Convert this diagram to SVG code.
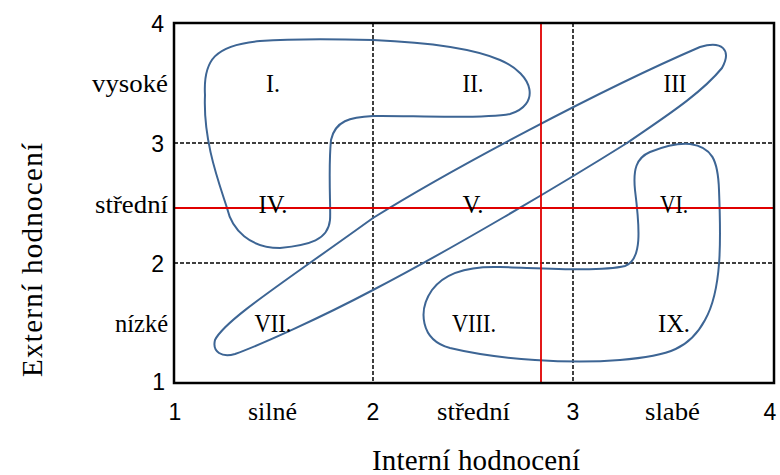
<svg xmlns="http://www.w3.org/2000/svg" width="780" height="475" viewBox="0 0 780 475">
<style>
.num{font-family:"Liberation Sans",Arial,sans-serif;font-size:23px;fill:#000}
.lbl{font-family:"Liberation Serif","Times New Roman",serif;font-size:26px;fill:#000}
.rom{font-family:"Liberation Serif","Times New Roman",serif;font-size:25px;fill:#000;text-anchor:middle}
.ttl{font-family:"Liberation Serif","Times New Roman",serif;font-size:29px;fill:#000;text-anchor:middle}
.dash{stroke:#000;stroke-width:1.5;stroke-dasharray:4 2;fill:none}
.red{stroke:#e00000;stroke-width:1.8;fill:none}
.reg{stroke:#3d6594;stroke-width:2;fill:none}
</style>
<rect x="0" y="0" width="780" height="475" fill="#fff"/>
<g id="grid">
<line class="dash" x1="373" y1="23" x2="373" y2="383"/>
<line class="dash" x1="573" y1="23" x2="573" y2="383"/>
<line class="dash" x1="174" y1="143" x2="774" y2="143"/>
<line class="dash" x1="174" y1="263" x2="774" y2="263"/>
</g>
<g id="regions">
<path id="region-I-II-IV" class="reg" d="M205,95 C203,60 215,45 260,41 C300,38 340,39 373,40 C420,42 470,47 500,60 C535,75 540,105 510,114 C480,120 400,115 373,116 C350,117 335,121 331,140 C328,170 331,210 330,220 C328,240 310,245 280,248 C250,248 232,230 227,208 C218,180 203,140 205,95 Z"/>
<path id="region-III-V-VII" class="reg" d="M215,340 C225,320 280,285 373,218 C450,170 600,90 700,47 C722,40 732,50 722,68 C700,95 660,120 627,143 C560,185 450,250 373,290 C320,318 260,345 235,354 C222,358 212,352 215,340 Z"/>
<path id="region-VI-VIII-IX" class="reg" d="M635,190 C633,170 636,158 650,152 C665,146 680,143 690,144 C712,147 718,160 719,190 C721,240 722,290 705,320 C690,348 670,356 620,360 C570,364 500,360 450,348 C420,340 418,310 432,290 C445,272 470,266 500,267 C540,268 600,272 625,266 C642,260 640,230 635,190 Z"/>
</g>
<g id="red-lines">
<line class="red" x1="541" y1="23" x2="541" y2="383"/>
<line class="red" x1="174" y1="208" x2="774" y2="208"/>
</g>
<rect id="frame" x="174" y="23" width="600" height="360" fill="none" stroke="#000" stroke-width="2.5"/>
<g id="region-labels">
<text class="rom" x="273" y="92" textLength="14" lengthAdjust="spacingAndGlyphs">I.</text>
<text class="rom" x="473" y="92" textLength="21" lengthAdjust="spacingAndGlyphs">II.</text>
<text class="rom" x="675" y="92" textLength="23" lengthAdjust="spacingAndGlyphs">III</text>
<text class="rom" x="273" y="213" textLength="29" lengthAdjust="spacingAndGlyphs">IV.</text>
<text class="rom" x="473" y="213" textLength="21" lengthAdjust="spacingAndGlyphs">V.</text>
<text class="rom" x="674" y="213" textLength="28" lengthAdjust="spacingAndGlyphs">VI.</text>
<text class="rom" x="273" y="332" textLength="37" lengthAdjust="spacingAndGlyphs">VII.</text>
<text class="rom" x="474" y="332" textLength="44" lengthAdjust="spacingAndGlyphs">VIII.</text>
<text class="rom" x="674" y="332" textLength="32" lengthAdjust="spacingAndGlyphs">IX.</text>
</g>
<g id="y-axis">
<text class="num" x="164" y="32" text-anchor="end">4</text>
<text class="num" x="164" y="152" text-anchor="end">3</text>
<text class="num" x="164" y="272" text-anchor="end">2</text>
<text class="num" x="165" y="390" text-anchor="end">1</text>
<text class="lbl" x="92" y="92" textLength="76" lengthAdjust="spacingAndGlyphs">vysoké</text>
<text class="lbl" x="95" y="213" textLength="73" lengthAdjust="spacingAndGlyphs">střední</text>
<text class="lbl" x="115" y="332" textLength="53" lengthAdjust="spacingAndGlyphs">nízké</text>
<text class="ttl" transform="translate(42,260) rotate(-90)" textLength="234" lengthAdjust="spacing">Externí hodnocení</text>
</g>
<g id="x-axis">
<text class="num" x="175" y="420" text-anchor="middle">1</text>
<text class="num" x="373" y="420" text-anchor="middle">2</text>
<text class="num" x="573" y="420" text-anchor="middle">3</text>
<text class="num" x="770" y="420" text-anchor="middle">4</text>
<text class="lbl" x="248" y="420" textLength="49" lengthAdjust="spacingAndGlyphs">silné</text>
<text class="lbl" x="437" y="420" textLength="73" lengthAdjust="spacingAndGlyphs">střední</text>
<text class="lbl" x="645" y="420" textLength="55" lengthAdjust="spacingAndGlyphs">slabé</text>
<text class="ttl" x="476" y="470" textLength="208" lengthAdjust="spacing">Interní hodnocení</text>
</g>
</svg>
